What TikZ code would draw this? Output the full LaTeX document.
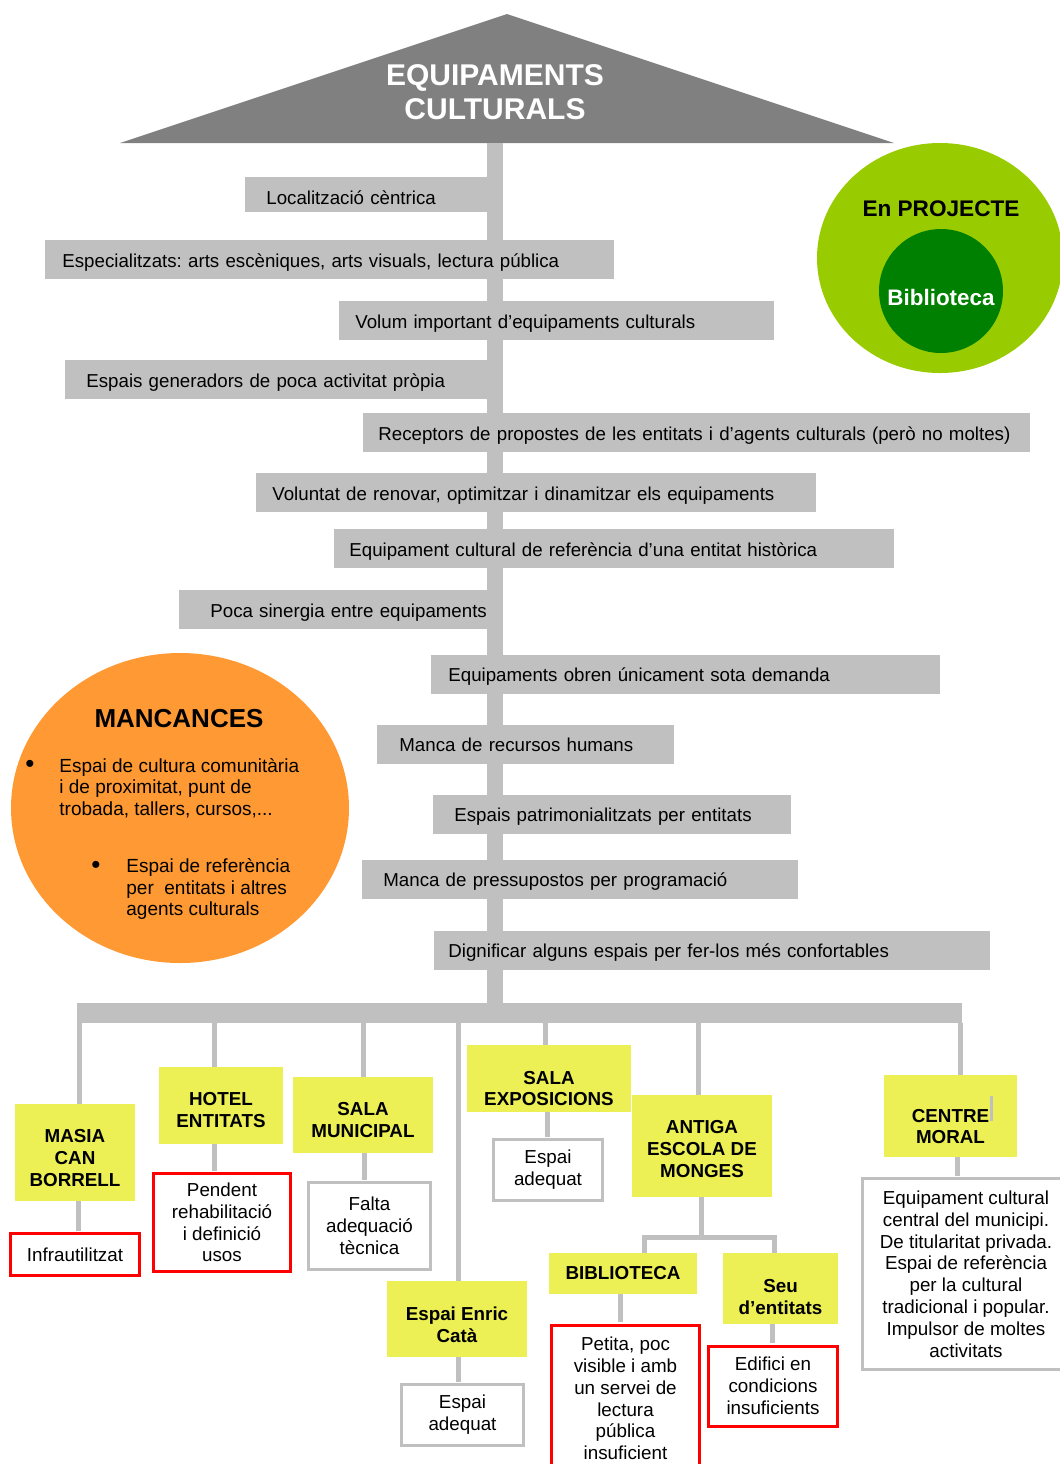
\documentclass[tikz,border=0pt]{standalone}
\usepackage{fontspec}
\setmainfont{Liberation Sans}
\usetikzlibrary{shapes.geometric}
\definecolor{barGray}{RGB}{192,192,192}
\definecolor{roofGray}{RGB}{128,128,128}
\definecolor{boxYellow}{RGB}{236,240,84}
\definecolor{mancOrange}{RGB}{255,153,51}
\definecolor{projLime}{RGB}{153,204,0}
\definecolor{projGreen}{RGB}{0,128,0}
\definecolor{boxRed}{RGB}{255,0,0}
\begin{document}
\frenchspacing
\begin{tikzpicture}[x=0.5pt,y=-0.5pt,
    bar/.style 2 args={fill=barGray,anchor=west,inner sep=0pt,minimum height=19.5pt,
      text width=#1,align=left,text height=8.5pt,text depth=1pt,
      font=\fontsize{9.35}{11}\selectfont,execute at begin node={\hspace*{#2}}},
    place/.style={fill=boxYellow,inner sep=0pt},
    placetext/.style={inner sep=0pt,align=center,font=\fontsize{9.4}{10.9}\bfseries\selectfont},
    bad/.style={draw=boxRed,line width=1.5pt,fill=white,inner sep=0pt,align=center,font=\fontsize{9.4}{10.9}\selectfont},
    good/.style={draw=barGray,line width=1.5pt,fill=white,inner sep=0pt,align=center,font=\fontsize{9.4}{10.9}\selectfont},
    item/.style={anchor=west,inner sep=0pt,align=left,font=\fontsize{9.5}{10.8}\selectfont},
    dot/.style={inner sep=0pt,font=\fontsize{13}{13}\selectfont},
    stem/.style={barGray,line width=2.5pt},
    trunk/.style={barGray,line width=8pt}]
\useasboundingbox (0,0) rectangle (1060,1464);
\clip (0,0) rectangle (1060,1464);

% teulada
\fill[roofGray] (120,143) -- (507,14) -- (894,143) -- cycle;
\node[text=white,align=center,font=\fontsize{15}{17}\bfseries\selectfont] (roof) at (495,92) {EQUIPAMENTS\\CULTURALS};

% tronc i barra
\node[fill=barGray,inner sep=0pt,minimum width=442.5pt,minimum height=10pt] (hbar) at (519.5,1013) {};
\coordinate (top) at (495,143);
\draw[trunk] (top) -- (top |- hbar.north);

% trets
\node[bar={129pt}{10.5pt},minimum height=17.5pt,text height=11pt] (b1) at (245,194.5) {Localització cèntrica};
\node[bar={284.5pt}{8.5pt}] (b2) at (45,259.5) {Especialitzats: arts escèniques, arts visuals, lectura pública};
\node[bar={217.5pt}{8pt}] (b3) at (339,320.5) {Volum important d’equipaments culturals};
\node[bar={219pt}{10.5pt}] (b4) at (65,379.5) {Espais generadors de poca activitat pròpia};
\node[bar={333.5pt}{7.5pt}] (b5) at (363,432.5) {Receptors de propostes de les entitats i d’agents culturals (però no moltes)};
\node[bar={280pt}{8pt}] (b6) at (256,492.5) {Voluntat de renovar, optimitzar i dinamitzar els equipaments};
\node[bar={280pt}{7.5pt}] (b7) at (334,548.5) {Equipament cultural de referència d’una entitat històrica};
\node[bar={162pt}{15.5pt}] (b8) at (179,609.5) {Poca sinergia entre equipaments};
\node[bar={254.5pt}{8.5pt}] (b9) at (431,674) {Equipaments obren únicament sota demanda};
\node[bar={148.5pt}{11pt}] (b10) at (377,744) {Manca de recursos humans};
\node[bar={179pt}{10.5pt}] (b11) at (433,814) {Espais patrimonialitzats per entitats};
\node[bar={218pt}{10.5pt}] (b12) at (362,879) {Manca de pressupostos per programació};
\node[bar={278pt}{7pt}] (b13) at (434,950) {Dignificar alguns espais per fer-los més confortables};

% en projecte
\node[ellipse,fill=projLime,inner sep=0pt,minimum width=123pt,minimum height=115pt] (proj) at (940,258) {};
\node[font=\fontsize{11.3}{13}\bfseries\selectfont] (projt) at (941,209) {En PROJECTE};
\node[circle,fill=projGreen,inner sep=0pt,minimum size=62pt,text=white,text height=15pt,
  font=\fontsize{11.2}{13}\bfseries\selectfont] (bib) at (941,291) {Biblioteca};

% mancances
\node[ellipse,fill=mancOrange,inner sep=0pt,minimum width=169pt,minimum height=155pt] (manc) at (180,808) {};
\node[font=\fontsize{13}{15}\bfseries\selectfont] (mtitle) at (179,719) {MANCANCES};
\node[dot] (dot1) at (30,766) {\textbullet};
\node[item] (m1) at (59,788) {Espai de cultura comunitària\\i de proximitat, punt de\\trobada, tallers, cursos,...};
\node[dot] (dot2) at (96,867) {\textbullet};
\node[item] (m2) at (126,889) {Espai de referència\\per~ entitats i altres\\agents culturals};

% equipaments
\node[place,minimum width=60pt,minimum height=48.5pt] (masia) at (75,1152.5) {};
\node[placetext] (masiaT) at ([yshift=-2.75pt]masia.center) {MASIA\\CAN\\BORRELL};
\node[bad,minimum width=64.5pt,minimum height=21pt] (infra) at (75,1254.5) {Infrautilitzat};
\node[place,minimum width=62pt,minimum height=38.5pt] (hotel) at (221,1105.5) {};
\node[placetext] (hotelT) at ([yshift=-2.25pt]hotel.center) {HOTEL\\ENTITATS};
\node[bad,minimum width=68.5pt,minimum height=49pt] (pendent) at (222,1222.5) {Pendent\\rehabilitació\\i definició\\usos};
\node[place,minimum width=70pt,minimum height=38pt] (salamun) at (363,1115) {};
\node[placetext] (salamunT) at ([yshift=-2.5pt]salamun.center) {SALA\\MUNICIPAL};
\node[good,minimum width=61pt,minimum height=43.5pt] (falta) at (369.5,1226) {Falta\\adequació\\tècnica};
\node[place,minimum width=70pt,minimum height=38pt] (enric) at (457,1319) {};
\node[placetext] (enricT) at ([yshift=-3pt]enric.center) {Espai Enric\\Catà};
\node[good,minimum width=61pt,minimum height=30.5pt] (adeq1) at (462.5,1415) {Espai\\adequat};
\node[place,minimum width=82pt,minimum height=33.5pt] (salaexp) at (549,1078.5) {};
\node[placetext] (salaexpT) at ([yshift=-5pt]salaexp.center) {SALA\\EXPOSICIONS};
\node[good,minimum width=54.5pt,minimum height=30.5pt] (adeq2) at (548,1170) {Espai\\adequat};
\node[place,minimum width=70pt,minimum height=51pt] (antiga) at (702,1146) {};
\node[placetext] (antigaT) at ([yshift=-1.5pt]antiga.center) {ANTIGA\\ESCOLA DE\\MONGES};
\node[place,placetext,minimum width=74pt,minimum height=20.5pt] (biblio) at (623,1273.5) {BIBLIOTECA};
\node[bad,anchor=north,minimum width=74pt,minimum height=73.5pt] (petita) at (625.5,1323.5) {Petita, poc\\visible i amb\\un servei de\\lectura\\pública\\insuficient};
\node[place,minimum width=57.5pt,minimum height=35.5pt] (seu) at (780.5,1288.5) {};
\node[placetext] (seuT) at ([yshift=-4.25pt]seu.center) {Seu\\d’entitats};
\node[bad,minimum width=64.5pt,minimum height=40pt] (edifici) at (773,1386) {Edifici en\\condicions\\insuficients};
\node[place,minimum width=66.5pt,minimum height=41pt] (centre) at (950.5,1116) {};
\node[placetext] (centreT) at ([yshift=-5.25pt]centre.center) {CENTRE\\MORAL};
\node[good,minimum width=103.5pt,minimum height=95.5pt] (equip) at (966,1274) {Equipament cultural\\central del municipi.\\De titularitat privada.\\ Espai de referència\\per la cultural\\tradicional i popular.\\Impulsor de moltes\\activitats};
\draw[barGray,line width=1.5pt] (991,1096) -- (991,1121);

% branques
\draw[stem] (79,0 |- hbar.south) -- (79,0 |- masia.north);
\draw[stem,shorten >=0.75pt] (78,0 |- masia.south) -- (78,0 |- infra.north);
\draw[stem] (214,0 |- hbar.south) -- (214,0 |- hotel.north);
\draw[stem,shorten >=0.75pt] (214,0 |- hotel.south) -- (214,0 |- pendent.north);
\draw[stem] (363,0 |- hbar.south) -- (363,0 |- salamun.north);
\draw[stem,shorten >=0.75pt] (364,0 |- salamun.south) -- (364,0 |- falta.north);
\draw[stem] (458,0 |- hbar.south) -- (458,0 |- enric.north);
\draw[stem,shorten >=0.75pt] (458,0 |- enric.south) -- (458,0 |- adeq1.north);
\draw[stem] (545,0 |- hbar.south) -- (545,0 |- salaexp.north);
\draw[stem,shorten >=0.75pt] (547,0 |- salaexp.south) -- (547,0 |- adeq2.north);
\draw[stem] (698,0 |- hbar.south) -- (698,0 |- antiga.north);
\coordinate (split) at (701,1237);
\draw[stem] (antiga.south -| split) -- (split);
\draw[stem] (644,0 |- biblio.north) |- (split) -| (774,0 |- seu.north);
\draw[stem,shorten >=0.75pt] (620,0 |- biblio.south) -- (620,0 |- petita.north);
\draw[stem,shorten >=0.75pt] (772,0 |- seu.south) -- (772,0 |- edifici.north);
\draw[stem] (960,0 |- hbar.south) -- (960,0 |- centre.north);
\draw[stem,shorten >=0.75pt] (957,0 |- centre.south) -- (957,0 |- equip.north);
\end{tikzpicture}
\end{document}
